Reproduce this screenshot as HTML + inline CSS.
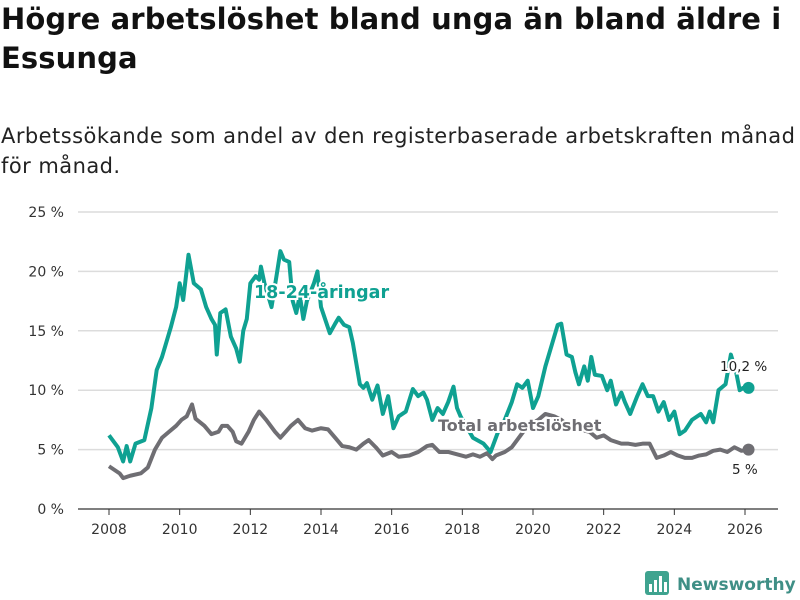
<!DOCTYPE html>
<html><head><meta charset="utf-8"><style>
body{margin:0;width:800px;height:600px;background:#fff;font-family:"DejaVu Sans","Liberation Sans",sans-serif;overflow:hidden;position:relative;color:#111}
h1{position:absolute;left:1px;top:0px;margin:0;font-size:29px;line-height:39px;font-weight:bold;white-space:nowrap;letter-spacing:0.1px}
p.sub{position:absolute;left:1px;top:121px;margin:0;font-size:21px;line-height:30px;white-space:nowrap;color:#222;letter-spacing:0.45px}
svg{position:absolute;left:0;top:0}
</style></head><body>
<h1>Högre arbetslöshet bland unga än bland äldre i<br>Essunga</h1>
<p class="sub">Arbetssökande som andel av den registerbaserade arbetskraften månad<br>för månad.</p>
<svg id="c" width="800" height="600"></svg>
<script>
const yTicks=[0,5,10,15,20,25];
const xTicks=[2008,2010,2012,2014,2016,2018,2020,2022,2024,2026];
const youthX=[2008.0,2008.25,2008.4,2008.5,2008.6,2008.75,2009.0,2009.2,2009.35,2009.5,2009.6,2009.75,2009.9,2010.0,2010.1,2010.25,2010.4,2010.6,2010.75,2010.9,2011.0,2011.05,2011.15,2011.3,2011.45,2011.6,2011.7,2011.8,2011.9,2012.0,2012.15,2012.25,2012.3,2012.4,2012.6,2012.75,2012.85,2012.95,2013.1,2013.2,2013.3,2013.4,2013.5,2013.6,2013.8,2013.9,2014.0,2014.25,2014.4,2014.5,2014.65,2014.8,2014.9,2015.1,2015.2,2015.3,2015.45,2015.6,2015.75,2015.9,2016.05,2016.2,2016.4,2016.6,2016.75,2016.9,2017.0,2017.15,2017.3,2017.45,2017.6,2017.75,2017.85,2017.95,2018.3,2018.6,2018.8,2019.0,2019.2,2019.4,2019.55,2019.7,2019.85,2020.0,2020.15,2020.35,2020.55,2020.7,2020.8,2020.95,2021.1,2021.2,2021.3,2021.45,2021.55,2021.65,2021.75,2021.95,2022.1,2022.2,2022.35,2022.5,2022.6,2022.75,2022.95,2023.1,2023.25,2023.4,2023.55,2023.7,2023.85,2024.0,2024.15,2024.3,2024.5,2024.75,2024.9,2025.0,2025.1,2025.25,2025.45,2025.6,2025.75,2025.85,2025.95,2026.1];
const youthY=[6.2,5.2,4.0,5.3,4.0,5.5,5.8,8.5,11.7,12.8,13.8,15.3,17.0,19.0,17.6,21.4,19.0,18.5,17.0,16.0,15.5,13.0,16.5,16.8,14.5,13.5,12.4,15.0,16.0,19.0,19.6,19.3,20.4,19.0,17.0,19.8,21.7,21.0,20.8,17.5,16.5,18.0,16.0,17.5,19.0,20.0,17.0,14.8,15.6,16.1,15.5,15.3,14.0,10.5,10.2,10.6,9.2,10.4,8.0,9.5,6.8,7.8,8.2,10.1,9.5,9.8,9.2,7.5,8.5,8.0,9.0,10.3,8.5,7.8,6.0,5.5,4.8,6.4,7.5,9.0,10.5,10.2,10.8,8.5,9.5,12.0,14.0,15.5,15.6,13.0,12.8,11.5,10.5,12.0,10.8,12.8,11.3,11.2,10.0,10.8,8.8,9.8,9.0,8.0,9.5,10.5,9.5,9.5,8.2,9.0,7.5,8.2,6.3,6.6,7.5,8.0,7.3,8.2,7.3,10.0,10.5,13.0,11.5,10.0,10.2,10.2];
const totalX=[2008.0,2008.3,2008.4,2008.6,2008.9,2009.1,2009.3,2009.5,2009.7,2009.9,2010.05,2010.2,2010.35,2010.45,2010.7,2010.9,2011.1,2011.2,2011.35,2011.5,2011.6,2011.75,2011.95,2012.1,2012.25,2012.45,2012.7,2012.85,2013.0,2013.15,2013.35,2013.55,2013.75,2014.0,2014.2,2014.4,2014.6,2014.8,2015.0,2015.2,2015.35,2015.55,2015.75,2016.0,2016.2,2016.5,2016.75,2017.0,2017.15,2017.35,2017.6,2017.85,2018.1,2018.3,2018.5,2018.7,2018.85,2018.95,2019.2,2019.4,2019.6,2019.85,2020.15,2020.35,2020.6,2020.8,2021.0,2021.3,2021.6,2021.8,2022.0,2022.2,2022.5,2022.7,2022.9,2023.1,2023.3,2023.5,2023.7,2023.9,2024.1,2024.3,2024.5,2024.7,2024.9,2025.1,2025.3,2025.5,2025.7,2025.9,2026.1];
const totalY=[3.6,3.0,2.6,2.8,3.0,3.5,5.0,6.0,6.5,7.0,7.5,7.8,8.8,7.6,7.0,6.3,6.5,7.0,7.0,6.5,5.7,5.5,6.5,7.5,8.2,7.5,6.5,6.0,6.5,7.0,7.5,6.8,6.6,6.8,6.7,6.0,5.3,5.2,5.0,5.5,5.8,5.2,4.5,4.8,4.4,4.5,4.8,5.3,5.4,4.8,4.8,4.6,4.4,4.6,4.4,4.7,4.2,4.5,4.8,5.2,6.0,7.0,7.5,8.0,7.8,7.5,7.0,6.7,6.5,6.0,6.2,5.8,5.5,5.5,5.4,5.5,5.5,4.3,4.5,4.8,4.5,4.3,4.3,4.5,4.6,4.9,5.0,4.8,5.2,4.9,5.0];
const NS='http://www.w3.org/2000/svg';
const svg=document.getElementById('c');
const FF='DejaVu Sans, Liberation Sans, sans-serif';
const X=v=>109+(v-2008)*(745-109)/18;
const Y=v=>509-v*(509-212)/25;
function mk(t,a){const e=document.createElementNS(NS,t);for(const k in a)e.setAttribute(k,a[k]);svg.appendChild(e);return e;}
yTicks.forEach(t=>{
 const g=mk('line',{x1:78,x2:778,y1:Y(t),y2:Y(t),stroke:t===0?'#333':'#dcdcdc','stroke-width':t===0?1.2:1.5});
 
 
 const l=mk('text',{x:64,y:Y(t)+5,'text-anchor':'end','font-size':14,fill:'#333','font-family':FF});
 l.textContent=t+' %';
 
 
});
xTicks.forEach(t=>{
 const k=mk('line',{x1:X(t),x2:X(t),y1:509,y2:515,stroke:'#333','stroke-width':1});
 
 
 const l=mk('text',{x:X(t),y:534,'text-anchor':'middle','font-size':14,fill:'#333','font-family':FF});
 l.textContent=t;
 
 
});
function line(xs,ys,col,name){
 const p=mk('polyline',{points:xs.map((x,i)=>X(x)+','+Y(ys[i])).join(' '),fill:'none',stroke:col,'stroke-width':4,'stroke-linejoin':'round'});
 
 
 const c=mk('circle',{cx:X(xs[xs.length-1]),cy:Y(ys[ys.length-1]),r:6,fill:col});
 
 
}
line(totalX,totalY,'#6f6e73','total-line');
line(youthX,youthY,'#0fa192','youth-line');
function txt(x,y,s,fs,col,w,name,stroke){
 const t=mk('text',{x:x,y:y,'font-size':fs,fill:col,'font-weight':w,'font-family':FF,stroke:stroke?'#fff':'none','stroke-width':stroke?4:0,'paint-order':'stroke'});
 t.textContent=s;
 
 
}
txt(254,298,'18-24-åringar',17.5,'#0fa192','bold','youth-series-label',true);
txt(438,431,'Total arbetslöshet',16,'#6f6e73','bold','total-series-label',true);
txt(720,371,'10,2 %',13.5,'#222','normal','youth-last-value',true);
txt(732,474,'5 %',13.5,'#222','normal','total-last-value',true);
const lg=mk('g',{});


mk('rect',{x:645,y:571,width:24,height:24,rx:3,fill:'#3fa38f'});
mk('rect',{x:649,y:584,width:3,height:8,fill:'#fff'});
mk('rect',{x:654,y:580,width:3,height:12,fill:'#fff'});
mk('rect',{x:659,y:576,width:3,height:16,fill:'#fff'});
mk('rect',{x:664,y:582,width:3,height:10,fill:'#fff'});
txt(677,590,'Newsworthy',17,'#3f8f86','bold','newsworthy-wordmark',false);
</script>
</body></html>
